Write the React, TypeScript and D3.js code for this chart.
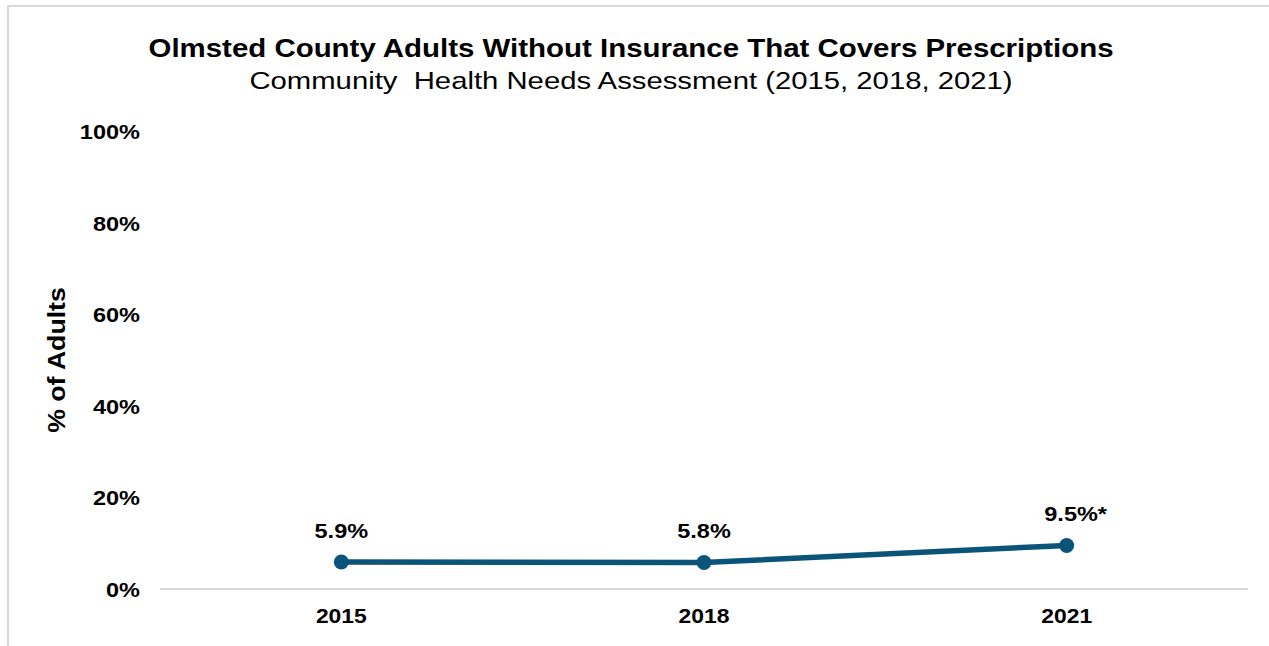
import React from "react";
import * as d3 from "d3";

const years = ["2015", "2018", "2021"];
const values = [5.9, 5.8, 9.5];
const valueLabels = ["5.9%", "5.8%", "9.5%*"];
const yTicks = [0, 20, 40, 60, 80, 100];

const W = 1269;
const H = 646;
const FONT = "'Liberation Sans', Arial, sans-serif";
const LINE = "#0b5479";

function T({
  x,
  y,
  sx = 1,
  rot = 0,
  anchor = "middle",
  size,
  bold,
  children,
}: {
  x: number;
  y: number;
  sx?: number;
  rot?: number;
  anchor?: string;
  size: number;
  bold?: boolean;
  children: React.ReactNode;
}) {
  return (
    <text
      transform={`translate(${x},${y}) rotate(${rot}) scale(${sx},1)`}
      textAnchor={anchor}
      fontSize={size}
      fontWeight={bold ? "bold" : "normal"}
      fill="#000"
      style={{ whiteSpace: "pre" }}
    >
      {children}
    </text>
  );
}

export default function App() {
  const x = d3.scaleBand<string>().domain(years).range([160, 1248]);
  const y = d3.scaleLinear().domain([0, 100]).range([589, 131]);
  const cx = (i: number) => (x(years[i]) as number) + x.bandwidth() / 2;
  const line = d3
    .line<number>()
    .x((_, i) => cx(i))
    .y((d) => y(d));

  return (
    <svg
      width={W}
      height={H}
      style={{ position: "absolute", left: 0, top: 0, background: "#fff" }}
      fontFamily={FONT}
    >
      <rect x={0} y={0} width={W} height={H} fill="#fff" />
      {/* chart border */}
      <path d={`M8,${H} V6 H${W}`} fill="none" stroke="#d9d9d9" strokeWidth={2} />

      {/* title */}
      <T x={631} y={57} size={25} bold sx={1.178}>
        Olmsted County Adults Without Insurance That Covers Prescriptions
      </T>
      <T x={631} y={89} size={24} sx={1.22}>
        {"Community  Health Needs Assessment (2015, 2018, 2021)"}
      </T>

      {/* y ticks */}
      {yTicks.map((t) => (
        <T key={t} x={140} y={y(t) + 8} anchor="end" size={21} bold sx={1.12}>
          {t}%
        </T>
      ))}

      {/* y axis title */}
      <T x={65} y={360} rot={-90} size={24} bold sx={1.11}>
        % of Adults
      </T>

      {/* x axis line */}
      <line x1={160} x2={1248} y1={y(0)} y2={y(0)} stroke="#d9d9d9" strokeWidth={2} />

      {/* x labels */}
      {years.map((yr, i) => (
        <T key={yr} x={cx(i)} y={623} size={21} bold sx={1.09}>
          {yr}
        </T>
      ))}

      {/* line */}
      <path d={line(values) || ""} fill="none" stroke={LINE} strokeWidth={5.5} strokeLinejoin="round" />
      {values.map((v, i) => (
        <circle key={i} cx={cx(i)} cy={y(v)} r={7.5} fill={LINE} />
      ))}
      {values.map((v, i) => (
        <T key={"l" + i} x={cx(i) + (i === 2 ? 9 : 0)} y={y(v) - 24} size={21} bold sx={1.12}>
          {valueLabels[i]}
        </T>
      ))}
    </svg>
  );
}
